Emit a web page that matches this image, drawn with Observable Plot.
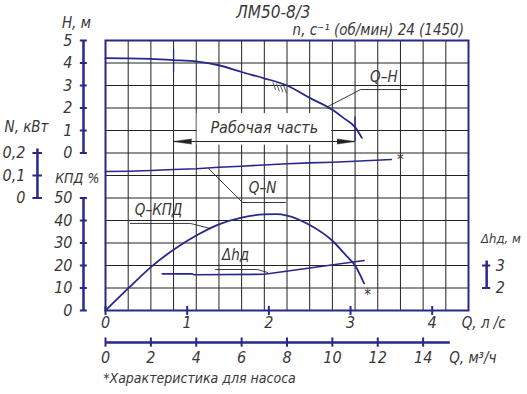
<!DOCTYPE html>
<html><head><meta charset="utf-8">
<script src="https://cdn.jsdelivr.net/npm/d3@7"></script>
<script src="https://cdn.jsdelivr.net/npm/@observablehq/plot@0.6"></script>
<style>body{margin:0;background:#fff}</style>
</head><body><div id="chart"></div>
<script>
// ---- texts ----
const title = "ЛМ50-8/3";
const subtitle = "n, с⁻¹ (об/мин) 24 (1450)";
const footnote = "*Характеристика для насоса";
const workLabel = "Рабочая часть";

// ---- axis ticks ----
const hTicks = [0, 1, 2, 3, 4, 5];          // H, м
const nTicks = [0, 0.1, 0.2];               // N, кВт
const kTicks = [0, 10, 20, 30, 40, 50];     // КПД, %
const dTicks = [2, 3];                      // Δhд, м
const qLsTicks = [0, 1, 2, 3, 4];           // Q, л/с
const qM3Ticks = [0, 2, 4, 6, 8, 10, 12, 14]; // Q, м³/ч

// ---- series (Q in м³/ч) ----
const qH = [0, 1, 2, 3, 4, 5, 6, 7, 8, 9, 10, 10.5, 11, 11.3];
const hH = [4.22, 4.21, 4.18, 4.13, 4.07, 3.9, 3.6, 3.32, 3.0, 2.45, 1.92, 1.55, 1.15, 0.67];

const qN = [0, 1, 2, 3, 4, 5, 6, 7, 8, 9, 10, 11, 12.6];
const nN = [0.118, 0.119, 0.122, 0.127, 0.130, 0.137, 0.141, 0.147, 0.152, 0.156, 0.159, 0.163, 0.171];

const qK = [0, 1, 2, 3, 4, 5, 6, 7, 7.5, 8, 9, 10, 10.6, 11, 11.4];
const kK = [0, 9.8, 19.3, 27, 33.3, 38.3, 41.3, 42.7, 42.8, 42.2, 38, 31, 24.5, 20, 12];

const qD = [2.5, 3.8, 3.9, 7.0, 11.4];
const dD = [2.63, 2.63, 2.59, 2.61, 3.22];

// working range (м³/ч) and best-efficiency point
const workRange = [3, 11];
const bep = {q: 8, h: 3.0};

// curve labels and leader lines (Q, value in the curve's own units)
const labelQH = {text: "Q–H", q: 12.27, v: 3.36};
const leaderQH = [[9.78, 2.05], [11.24, 2.82], [13.27, 2.82]];
const labelQN = {text: "Q–N", q: 6.92, v: 0.042};
const leaderQN = [[4.54, 0.131], [6.04, -0.02], [7.93, -0.02]];
const labelQK = {text: "Q–КПД", q: 2.34, v: 44.4};
const leaderQK = [[1.10, 38.7], [3.75, 38.7], [4.63, 36.4]];
const labelD = {text: "Δhд", q: 5.73, v: 3.44};
const leaderD = [[4.85, 2.82], [6.70, 2.82], [7.14, 2.69]];
const starN = {q: 13.0, v: 0.168};
const starK = {q: 11.55, v: 7};

// ---- mapping of each quantity onto the common row scale (12 grid rows) ----
const rowH = h => h + 7;
const rowN = n => 5 + n * 10;
const rowK = k => k / 10;
const rowD = d => d - 1;

const navy = "#28288a";
const ink = "#383838";
const fam = '"Liberation Sans Narrow","DejaVu Sans Condensed","DejaVu Sans",sans-serif';
const T = {fontFamily: fam, fontStyle: "italic", fill: ink};

const zip = (a, b) => a.map((x, i) => ({q: x, v: b[i]}));
const hAt = q => d3.scaleLinear(qH, hH)(q);

const AX_L = -0.97, AX_N = -3.0, AX_D = 16.8;
const DIM_H = 0.51;

const marks = [
  // grid (1 м³/ч by 1 row)
  Plot.ruleX(d3.range(1, 16), {stroke: "#222", strokeWidth: 1}),
  Plot.ruleY(d3.range(1, 12), {stroke: "#222", strokeWidth: 1}),
  // box behind "Рабочая часть"
  Plot.rect([0], {x1: 4.04, x2: 9.97, y1: rowH(0.35), y2: rowH(1.75), fill: "white"}),
  Plot.frame({stroke: navy, strokeWidth: 2}),

  // working range
  Plot.text([workLabel], {x: (workRange[0] + workRange[1]) / 2, y: rowH(1.1), text: d => d, fontSize: 16, ...T}),
  Plot.ruleY([rowH(DIM_H)], {x1: workRange[0], x2: workRange[1], stroke: "#222", strokeWidth: 1}),
  Plot.vector([workRange[0]], {x: d => d, y: rowH(DIM_H), rotate: -90, length: 18, r: 2.5, shape: "spike", anchor: "end", fill: "#222", stroke: "#222", strokeWidth: 0.5}),
  Plot.vector([workRange[1]], {x: d => d, y: rowH(DIM_H), rotate: 90, length: 18, r: 2.5, shape: "spike", anchor: "end", fill: "#222", stroke: "#222", strokeWidth: 0.5}),
  Plot.ruleX(workRange, {x: d => d, y1: d => rowH(hAt(d) + 0.45), y2: d => rowH(d === workRange[1] ? DIM_H : hAt(d) - 0.55), stroke: navy, strokeWidth: 1.3}),
  // best efficiency hatch
  Plot.link(d3.range(4), {
    x1: i => bep.q - 0.62 + i * 0.16, y1: i => rowH(hAt(bep.q - 0.62 + i * 0.16) - 0.06),
    x2: i => bep.q - 0.5 + i * 0.16, y2: i => rowH(hAt(bep.q - 0.62 + i * 0.16) - 0.4),
    stroke: "#555", strokeWidth: 1
  }),

  // curves
  Plot.line(zip(qH, hH), {x: "q", y: d => rowH(d.v), stroke: navy, strokeWidth: 1.8, curve: "monotone-x"}),
  Plot.line(zip(qN, nN), {x: "q", y: d => rowN(d.v), stroke: navy, strokeWidth: 1.6}),
  Plot.line(zip(qK, kK), {x: "q", y: d => rowK(d.v), stroke: navy, strokeWidth: 1.8, curve: "monotone-x"}),
  Plot.line(zip(qD, dD), {x: "q", y: d => rowD(d.v), stroke: navy, strokeWidth: 1.6}),
  Plot.text(["*"], {x: starN.q, y: rowN(starN.v), text: d => d, fontSize: 15, fontFamily: fam, fill: ink}),
  Plot.text(["*"], {x: starK.q, y: rowK(starK.v), text: d => d, fontSize: 15, fontFamily: fam, fill: ink}),

  // leaders & labels
  Plot.line(leaderQH, {x: d => d[0], y: d => rowH(d[1]), stroke: "#222", strokeWidth: 0.9}),
  Plot.line(leaderQN, {x: d => d[0], y: d => rowN(d[1]), stroke: "#222", strokeWidth: 0.9}),
  Plot.line(leaderQK, {x: d => d[0], y: d => rowK(d[1]), stroke: "#222", strokeWidth: 0.9}),
  Plot.line(leaderD, {x: d => d[0], y: d => rowD(d[1]), stroke: "#222", strokeWidth: 0.9}),
  Plot.text([labelQH], {x: "q", y: d => rowH(d.v), text: "text", fontSize: 15, ...T}),
  Plot.text([labelQN], {x: "q", y: d => rowN(d.v), text: "text", fontSize: 15, ...T}),
  Plot.text([labelQK], {x: "q", y: d => rowK(d.v), text: "text", fontSize: 15, ...T}),
  Plot.text([labelD], {x: "q", y: d => rowD(d.v), text: "text", fontSize: 15, ...T}),

  // H axis
  Plot.ruleX([AX_L], {y1: rowH(0), y2: rowH(5), stroke: navy, strokeWidth: 2.5}),
  Plot.ruleY(hTicks, {y: rowH, x1: AX_L - 0.14, x2: AX_L + 0.17, stroke: navy, strokeWidth: 2}),
  Plot.text(hTicks, {x: AX_L, y: rowH, text: d => String(d), textAnchor: "end", dx: -11, fontSize: 16, ...T}),
  Plot.text(["H, м"], {x: AX_L - 0.95, y: rowH(5.75), text: d => d, textAnchor: "start", fontSize: 15, ...T}),
  // КПД axis
  Plot.ruleX([AX_L], {y1: rowK(0), y2: rowK(50), stroke: navy, strokeWidth: 2.5}),
  Plot.ruleY(kTicks, {y: rowK, x1: AX_L - 0.14, x2: AX_L + 0.17, stroke: navy, strokeWidth: 2}),
  Plot.text(kTicks, {x: AX_L, y: rowK, text: d => String(d), textAnchor: "end", dx: -11, fontSize: 16, ...T}),
  Plot.text(["КПД %"], {x: AX_L - 1.25, y: rowN(0.085), text: d => d, textAnchor: "start", fontSize: 14, ...T}),
  // N axis
  Plot.ruleX([AX_N], {y1: rowN(0), y2: rowN(0.218), stroke: navy, strokeWidth: 2.5}),
  Plot.ruleY(nTicks, {y: rowN, x1: AX_N - 0.2, x2: AX_N + 0.22, stroke: navy, strokeWidth: 2}),
  Plot.text(nTicks, {x: AX_N, y: rowN, text: d => String(d).replace(".", ","), textAnchor: "end", dx: -12, fontSize: 16, ...T}),
  Plot.text(["N, кВт"], {x: AX_N - 1.45, y: rowN(0.315), text: d => d, textAnchor: "start", fontSize: 15, ...T}),
  // Δhд axis
  Plot.ruleX([AX_D], {y1: rowD(2), y2: rowD(3.2), stroke: navy, strokeWidth: 2.5}),
  Plot.ruleY(dTicks, {y: rowD, x1: AX_D - 0.18, x2: AX_D + 0.18, stroke: navy, strokeWidth: 2}),
  Plot.text(dTicks, {x: AX_D, y: rowD, text: d => String(d), textAnchor: "start", dx: 9, fontSize: 16, ...T}),
  Plot.text(["Δhд, м"], {x: AX_D - 0.25, y: rowD(4.2), text: d => d, textAnchor: "start", fontSize: 13, ...T}),

  // Q, л/с axis (on the frame bottom)
  Plot.ruleX(qLsTicks, {x: d => d * 3.6, y1: 0.18, y2: -0.22, stroke: navy, strokeWidth: 2}),
  Plot.text(qLsTicks, {x: d => d * 3.6, frameAnchor: "bottom", dy: 17, text: d => String(d), fontSize: 16, ...T}),
  Plot.text(["Q, л /с"], {x: 15.7, frameAnchor: "bottom", dy: 17, text: d => d, textAnchor: "start", fontSize: 15, ...T}),
  // Q, м³/ч axis
  Plot.ruleY([-1.42], {x1: 0, x2: 15.2, stroke: navy, strokeWidth: 2.5}),
  Plot.ruleX(qM3Ticks, {x: d => d, y1: -1.22, y2: -1.63, stroke: navy, strokeWidth: 2}),
  Plot.text(qM3Ticks, {x: d => d, frameAnchor: "bottom", dy: 52, text: d => String(d), fontSize: 16, ...T}),
  Plot.text(["Q, м³/ч"], {x: 15.15, frameAnchor: "bottom", dy: 52, text: d => d, textAnchor: "start", fontSize: 15, ...T}),
  Plot.text([footnote], {x: -0.1, frameAnchor: "bottom", dy: 72, text: d => d, textAnchor: "start", fontSize: 14, ...T}),

  // titles
  Plot.text([title], {x: 7.4, y: 13.24, text: d => d, fontSize: 17, ...T}),
  Plot.text([subtitle], {x: 15.8, y: 12.44, text: d => d, textAnchor: "end", fontSize: 15, ...T})
];

const chart = Plot.plot({
  width: 527, height: 394,
  marginLeft: 105, marginRight: 59, marginTop: 40, marginBottom: 84,
  x: {domain: [0, 16], axis: null},
  y: {domain: [0, 12], axis: null},
  style: {fontFamily: fam, background: "white"},
  marks
});
document.getElementById("chart").appendChild(chart);
</script>
</body></html>
